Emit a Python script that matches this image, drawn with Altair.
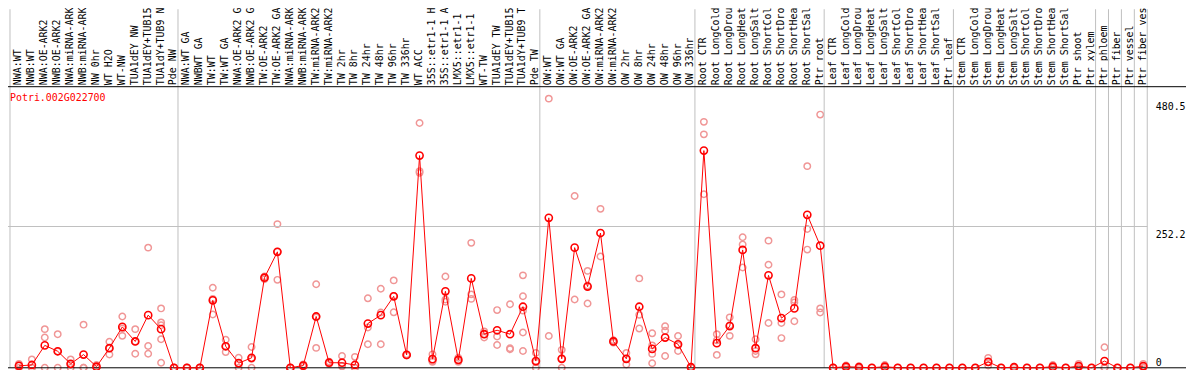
import altair as alt
import pandas as pd

gene_id = "Potri.002G022700"

categories = [
    "NWA:WT", "NWB:WT", "NWA:OE-ARK2", "NWB:OE-ARK2", "NWA:miRNA-ARK2", "NWB:miRNA-ARK2",
    "NW 0hr", "WT H2O", "WT-NW", "TUA1dEY NW", "TUA1dEY+TUB15 NW", "TUA1dY+TUB9 NW", "Pde NW",
    "NWA:WT GA", "NWBWT GA", "TW:WT", "TW:WT GA", "NWA:OE-ARK2 GA", "NWB:OE-ARK2 GA",
    "TW:OE-ARK2", "TW:OE-ARK2 GA", "NWA:miRNA-ARK2 GA", "NWB:miRNA-ARK2 GA", "TW:miRNA-ARK2",
    "TW:miRNA-ARK2 GA", "TW 2hr", "TW 8hr", "TW 24hr", "TW 48hr", "TW 96hr", "TW 336hr",
    "WT ACC", "35S::etr1-1 H2O", "35S::etr1-1 ACC", "LMX5::etr1-1 H2O", "LMX5::etr1-1 ACC",
    "WT-TW", "TUA1dEY TW", "TUA1dEY+TUB15 TW", "TUA1dY+TUB9 TW", "Pde TW",
    "OW:WT", "OW:WT GA", "OW:OE-ARK2", "OW:OE-ARK2 GA", "OW:miRNA-ARK2", "OW:miRNA-ARK2 GA",
    "OW 2hr", "OW 8hr", "OW 24hr", "OW 48hr", "OW 96hr", "OW 336hr",
    "Root CTR", "Root LongCold", "Root LongDrought", "Root LongHeat", "Root LongSalt",
    "Root ShortCold", "Root ShortDrought", "Root ShortHeat", "Root ShortSalt", "Ptr root",
    "Leaf CTR", "Leaf LongCold", "Leaf LongDrought", "Leaf LongHeat", "Leaf LongSalt",
    "Leaf ShortCold", "Leaf ShortDrought", "Leaf ShortHeat", "Leaf ShortSalt", "Ptr leaf",
    "Stem CTR", "Stem LongCold", "Stem LongDrought", "Stem LongHeat", "Stem LongSalt",
    "Stem ShortCold", "Stem ShortDrought", "Stem ShortHeat", "Stem ShortSalt", "Ptr shoot",
    "Ptr xylem", "Ptr phloem", "Ptr fiber", "Ptr vessel", "Ptr fiber vessel",
]

# categories that start a new group (grid line at band start)
group_starts = ["NWA:WT", "NWA:WT GA", "OW:WT", "Root CTR", "Leaf CTR", "Stem CTR",
                "Ptr phloem", "Ptr fiber", "Ptr vessel", "Ptr fiber vessel"]
group_end = ["Ptr fiber vessel"]

mean_values = [
    3.5, 5, 40, 29.5, 7, 23.6, 2, 35, 73, 47, 94, 69, 0,
    0, 0, 120.5, 38.4, 8.3, 17.7, 160.8, 207, 0, 4, 91.6, 9, 9, 5, 79, 94, 127.6, 23,
    378.8, 15.4, 136.5, 14, 159.6, 60, 67, 60, 109, 12,
    267.7, 16, 214.5, 145, 240.6, 47, 16, 109, 33.7, 54, 42, 1,
    387.7, 44, 74.5, 210.4, 35, 165, 88.6, 106, 273, 218,
    0, 2, 1, 0, 2, 0, 0, 0, 0, 0,
    0, 0, 10.6, 0, 1, 0, 0, 2, 0, 3, 0,
    12, 0, 0, 3,
]

replicate_values = [
    [0, 4, 7], [15, 0, 0], [69, 54, 0], [60, 0, 29], [15, 0, 6], [77, 0, 0], [5, 0, 1],
    [46.6, 23.6, 35], [91.6, 57, 70], [69, 25, 47], [214.5, 39, 25], [106, 81, 76, 51, 9],
    [0, 0, 0],
    [0, 0, 0], [0, 0, 0], [143, 95, 123], [50, 28, 38], [18, 0, 7], [37, 0, 16],
    [163, 158, 161], [256.5, 157, 207], [0, 0, 0], [4, 2, 6], [149, 35.5, 90], [11, 7, 9],
    [21, 3, 3], [19.5, 0, 0], [124, 72, 42], [141, 98.7, 42], [156, 99, 128], [24, 22, 23],
    [437, 351, 348], [24, 10.6, 12], [163, 122, 118], [10.6, 18, 14], [223, 131, 123],
    [65, 54, 60], [103, 56, 40.8], [113.5, 35, 33], [165, 127.6, 102, 63, 30], [26.6, 0, 10],
    [480.5, 56.7], [32, 0, 16], [306.7, 122], [173, 114.7, 147], [283.7, 198.6], [47, 45, 49],
    [26.6, 6, 16], [159.6, 94.5, 70], [61.5, 24.8, 8, 40], [74, 66, 21], [56.7, 30, 40],
    [0, 1, 2],
    [439, 416.7, 309.7], [60, 23, 49], [90, 57, 76], [233, 220, 179], [51, 24, 30],
    [227, 184, 80], [131, 80, 53], [121, 116.5, 83], [360, 247.7, 211], [452, 106, 98.7],
    [0, 0, 0], [4, 0, 2], [3, 0, 0], [0], [5, 0, 1], [0], [0], [0], [0], [0],
    [0], [0], [17.7, 4, 10], [0], [2, 0, 1], [0], [0], [5, 0, 1], [0], [7, 0, 2], [0],
    [36.6, 0, 0], [0], [0], [7, 0, 2],
]

y_ticks = [0, 252.2, 480.5]
y_grid = [252.2]
y_max = 501.8

mono = "DejaVu Sans Mono"
red = "#FF0000"
pink = "#F09696"
grid_gray = "#C0C0C0"
W, H = 1145, 283

means_df = pd.DataFrame({"cat": categories, "value": mean_values})
reps_df = pd.DataFrame(
    [{"cat": c, "value": v} for c, vals in zip(categories, replicate_values) for v in vals]
)

xscale = alt.Scale(domain=categories, paddingInner=0, paddingOuter=0)
yscale = alt.Scale(domain=[0, y_max], nice=False, zero=True)

x_axis = alt.Axis(
    orient="top", labelAngle=270, labelAlign="left", labelBaseline="middle",
    labelPadding=2, labelOffset=2, ticks=False, domain=False, grid=False, title=None,
    labelFont=mono, labelFontSize=10, labelColor="black", labelOverlap=False, labelLimit=0,
)
y_axis = alt.Axis(
    orient="right", values=y_ticks, grid=False, domain=False, ticks=False, title=None,
    labelPadding=8, labelFont=mono, labelFontSize=10, labelColor="black",
    labelExpr="datum.value == 0 ? '0' : format(datum.value, '.1f')",
    labelBaseline={"condition": {"test": "datum.value == 0", "value": "bottom"}, "value": "top"},
    labelOffset={"condition": {"test": "datum.value == 0", "value": 0}, "value": 3},
    labelFlush=False,
)

X = lambda field="cat", **kw: alt.X(f"{field}:N", scale=xscale, axis=x_axis, **kw)
Y = lambda field="value": alt.Y(f"{field}:Q", scale=yscale, axis=y_axis)

reps = alt.Chart(reps_df).mark_point(
    shape="circle", filled=False, color=pink, strokeWidth=1.5, size=42, opacity=1, xOffset=2.5
).encode(x=X(), y=Y())
line = alt.Chart(means_df).mark_line(color=red, strokeWidth=1, xOffset=2.5).encode(
    x=X(), y=Y()
)
pts = alt.Chart(means_df).mark_point(
    shape="circle", filled=False, color=red, strokeWidth=1.6, size=52, opacity=1, xOffset=2.5
).encode(x=X(), y=Y())

vgrid = alt.Chart(pd.DataFrame({"cat": group_starts})).mark_rule(
    color=grid_gray, strokeWidth=1
).encode(x=X(bandPosition=0), y=alt.value(-78), y2=alt.value(H))
vgrid_end = alt.Chart(pd.DataFrame({"cat": group_end})).mark_rule(
    color=grid_gray, strokeWidth=1
).encode(x=X(bandPosition=1), y=alt.value(-78), y2=alt.value(H))
hgrid = alt.Chart(pd.DataFrame({"value": y_grid})).mark_rule(
    color=grid_gray, strokeWidth=1
).encode(y=Y(), x=alt.value(-2), x2=alt.value(W))
top_line = alt.Chart(pd.DataFrame({"v": [0]})).mark_rule(color="black", strokeWidth=1).encode(
    y=alt.value(0), x=alt.value(-2), x2=alt.value(1184),
)
bottom_line = alt.Chart(pd.DataFrame({"v": [0]})).mark_rule(color="black", strokeWidth=1).encode(
    y=alt.value(H), x=alt.value(-2), x2=alt.value(1184),
)
title = alt.Chart(pd.DataFrame({"t": [gene_id]})).mark_text(
    align="left", baseline="alphabetic", font=mono, fontSize=10, color=red
).encode(x=alt.value(0), y=alt.value(14), text="t:N")

chart = alt.layer(
    reps, vgrid, vgrid_end, hgrid, top_line, bottom_line, line, pts, title
).properties(
    width=W, height=H,
    autosize=alt.AutoSizeParams(type="none"),
    padding={"left": 2, "top": 78, "right": 39, "bottom": 1},
).configure_view(stroke=None)

chart.save("out.html", embed_options={"renderer": "svg", "actions": False})
